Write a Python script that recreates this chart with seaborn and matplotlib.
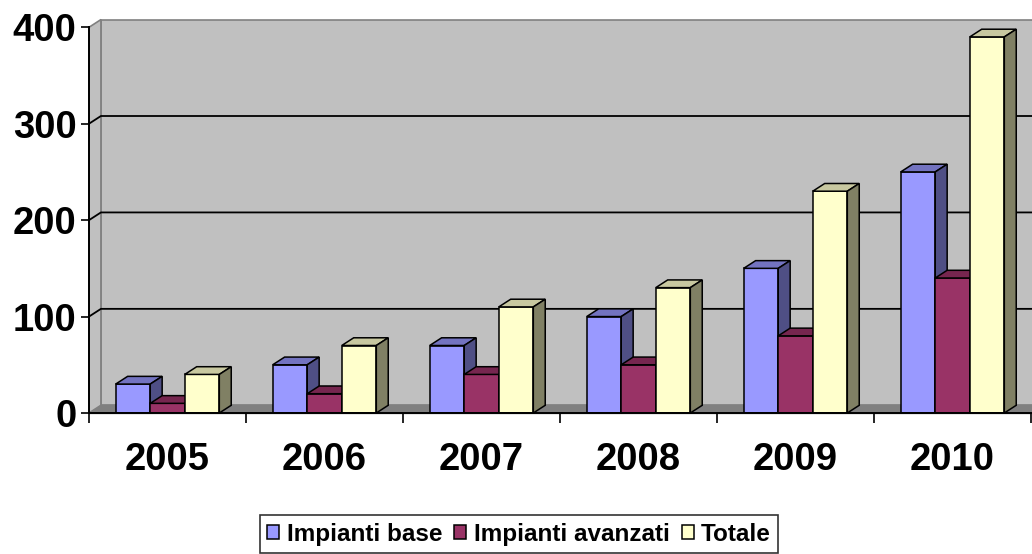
import matplotlib

matplotlib.use("Agg")
import numpy as np
import pandas as pd
import seaborn as sns
from matplotlib import pyplot as plt
from matplotlib.patches import Polygon

# data
anni = ["2005", "2006", "2007", "2008", "2009", "2010"]
impianti_base = [30, 50, 70, 100, 150, 250]
impianti_avanzati = [10, 20, 40, 50, 80, 140]
totale = [40, 70, 110, 130, 230, 390]
serie = ["Impianti base", "Impianti avanzati", "Totale"]
y_ticks = [0, 100, 200, 300, 400]

# excel-like 3d shading
colori_fronte = ["#9999FF", "#993366", "#FFFFCC"]
colori_sopra = ["#7373C0", "#76264F", "#C8C8A0"]
colori_lato = ["#4F4F85", "#5A1E3D", "#808064"]
DX, DY = 0.076, 8  # depth offset in data units

plt.rcParams["font.family"] = ["Liberation Sans", "DejaVu Sans"]
plt.rcParams["font.weight"] = "bold"

df = pd.DataFrame(
    {
        "anno": anni * 3,
        "valore": impianti_base + impianti_avanzati + totale,
        "serie": np.repeat(serie, len(anni)),
    }
)

fig = plt.figure(figsize=(10.32, 5.54), dpi=100)
ax = fig.add_axes([89 / 1032, 141 / 554, 942 / 1032, 405 / 554])
ax.set_facecolor("none")

sns.barplot(
    data=df, x="anno", y="valore", hue="serie", hue_order=serie,
    palette=colori_fronte, width=0.66, saturation=1,
    edgecolor="black", linewidth=1.1, ax=ax,
)
ax.set_xlim(-0.5, 5.5)
ax.set_ylim(0, 420)

# walls and floor
x_end = 5.5 + DX + 0.3
ax.add_patch(Polygon([(-0.5 + DX, DY), (x_end, DY), (x_end, 400 + DY), (-0.5 + DX, 400 + DY)],
                     fc="#C0C0C0", ec="#808080", lw=1.2, zorder=0, clip_on=False))
ax.add_patch(Polygon([(-0.5, 0), (-0.5, 400), (-0.5 + DX, 400 + DY), (-0.5 + DX, DY)],
                     fc="#C0C0C0", ec="#808080", lw=1.2, zorder=0.5, clip_on=False))
ax.add_patch(Polygon([(-0.5, 0), (x_end, 0), (x_end, DY), (-0.5 + DX, DY)],
                     fc="#808080", ec="#808080", lw=1, zorder=1, clip_on=False))
for v in y_ticks[1:-1]:
    ax.plot([-0.5, -0.5 + DX, x_end], [v, v + DY, v + DY], color="black", lw=1.3,
            zorder=0.8, clip_on=False)

# top and side faces of the bars
for i, cont in enumerate(ax.containers):
    for bar in cont:
        x0, w, h = bar.get_x(), bar.get_width(), bar.get_height()
        bar.set_zorder(3 + i)
        ax.add_patch(Polygon([(x0, h), (x0 + w, h), (x0 + w + DX, h + DY), (x0 + DX, h + DY)],
                             fc=colori_sopra[i], ec="black", lw=1.1, zorder=3 + i, clip_on=False))
        ax.add_patch(Polygon([(x0 + w, 0), (x0 + w + DX, DY), (x0 + w + DX, h + DY), (x0 + w, h)],
                             fc=colori_lato[i], ec="black", lw=1.1, zorder=3 + i, clip_on=False))

# axes
for s in ["top", "right"]:
    ax.spines[s].set_visible(False)
ax.spines["left"].set_bounds(0, 400)
ax.spines["left"].set_linewidth(1.4)
ax.spines["bottom"].set_linewidth(1.4)
ax.spines["left"].set_zorder(10)
ax.spines["bottom"].set_zorder(10)

ax.set_yticks(y_ticks)
ax.tick_params(axis="y", length=6, width=1.2, labelsize=27.5, pad=3)
ax.set_xticks(range(len(anni)), anni)
ax.set_xticks(np.arange(-0.5, len(anni), 1), minor=True)
ax.tick_params(axis="x", which="major", length=0, labelsize=27.5, pad=21)
ax.tick_params(axis="x", which="minor", length=7, width=1.2)
ax.set_xlabel("")
ax.set_ylabel("")

handles, labels = ax.get_legend_handles_labels()
leg = ax.legend(
    handles, labels, loc="center", bbox_to_anchor=(0.503, 0.036),
    bbox_transform=fig.transFigure, ncol=3, frameon=True, fancybox=False,
    edgecolor="black", prop={"weight": "bold", "size": 17.5},
    handlelength=0.5, handleheight=0.5, handletextpad=0.3,
    columnspacing=0.5, borderpad=0.3,
)
leg.get_frame().set_linewidth(1.2)

fig.savefig("out.png", dpi=100)
